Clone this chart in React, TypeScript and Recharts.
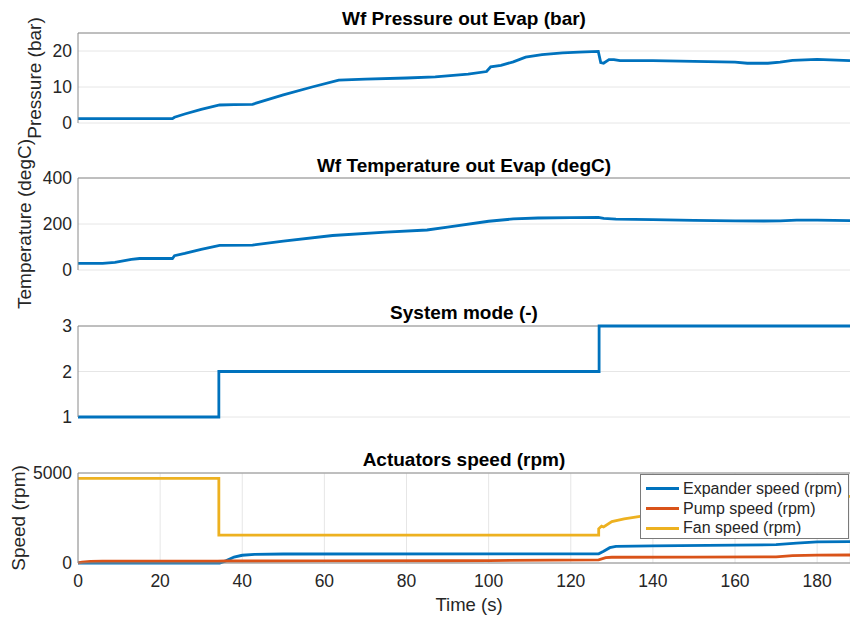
import { CartesianGrid, Legend, Line, LineChart, ReferenceLine, XAxis, YAxis } from "recharts";

const FONT = '"Liberation Sans", Arial, Helvetica, sans-serif';
const AXIS = "#8a8a8a";
const GRID = "#e6e6e6";
const INK = "#262626";
const BLUE = "#0072BD";
const RED = "#D95319";
const YELLOW = "#EDB120";

const timeTicks = [0, 20, 40, 60, 80, 100, 120, 140, 160, 180];
const timeDomain = [0, 188];

// pressure out of the evaporator (bar)
const pressureT = [0, 23, 23.5, 26, 30, 34.5, 38, 42.5, 50, 57, 63.5, 70, 80, 87, 95, 99.5, 100.5, 103, 106, 109, 113, 118, 122, 126.7, 127.3, 128, 129.3, 130.5, 132, 140, 150, 160, 163, 168, 171, 174, 180, 188];
const pressureV = [1.2, 1.2, 1.6, 2.5, 3.8, 5.0, 5.1, 5.2, 7.8, 10.0, 11.9, 12.2, 12.5, 12.8, 13.6, 14.3, 15.6, 16.0, 17.0, 18.3, 19.0, 19.5, 19.7, 19.9, 16.8, 16.6, 17.6, 17.6, 17.3, 17.3, 17.1, 16.9, 16.6, 16.6, 16.9, 17.4, 17.7, 17.3];

// temperature out of the evaporator (degC)
const tempT = [0, 6, 9, 13, 15, 23, 23.5, 26, 30, 34.5, 42.5, 50, 62, 75, 85, 90, 100, 106, 112, 120, 126.7, 128, 131, 140, 150, 160, 167, 171, 175, 180, 188];
const tempV = [29, 29, 33, 46, 50, 50, 62, 72, 90, 107, 108, 126, 150, 165, 174, 186, 212, 222, 226, 228, 229, 224, 221, 219, 216, 214, 213, 214, 217, 217, 215];

// system mode (-)
const modeT = [0, 34.3, 126.9, 188];
const modeV = [1, 2, 3, 3];

// actuators (rpm)
const expanderT = [0, 34.5, 36, 38, 40, 43, 50, 126.8, 128, 129.5, 131, 140, 160, 170, 175, 180, 188];
const expanderV = [0, 0, 120, 330, 430, 480, 500, 510, 650, 850, 920, 950, 990, 1020, 1100, 1170, 1190];
const pumpT = [0, 1, 3, 6, 34, 36, 60, 90, 100, 126.8, 128.5, 130, 150, 170, 174, 180, 188];
const pumpV = [0, 50, 90, 100, 105, 110, 115, 125, 135, 170, 300, 320, 330, 340, 410, 440, 445];
const fanT = [0, 34.3, 34.3, 126.8, 126.8, 127.5, 128, 130, 133, 136.5, 140, 150, 160, 170, 180, 188];
const fanV = [4700, 4700, 1550, 1550, 1900, 2050, 2000, 2300, 2450, 2570, 2700, 3000, 3250, 3450, 3620, 3700];

const legendOrder = ["Expander speed (rpm)", "Pump speed (rpm)", "Fan speed (rpm)"];

const toRows = (t: number[], v: number[]) => t.map((x, i) => ({ t: x, v: v[i] }));

const W = 850;
const H = 619;

const yLabel = (text: string, x: number) => ({
  content: (props: any) => {
    const vb = props.viewBox || {};
    const cy = vb.y + vb.height / 2;
    return (
      <text transform={`translate(${x},${cy}) rotate(-90)`} textAnchor="middle" fontSize={19} fill={INK} fontFamily={FONT}>
        {text}
      </text>
    );
  },
});

const tickStyle = { fontSize: 17.5, fill: INK, fontFamily: FONT };

type PanelProps = {
  top: number;
  bottom: number;
  yDomain: number[];
  yTicks: number[];
  label?: string;
  labelX?: number;
  children: any;
  last?: boolean;
  legend?: boolean;
};

function Panel({ top, bottom, yDomain, yTicks, label, labelX = 30, children, last, legend }: PanelProps) {
  return (
    <div style={{ position: "absolute", left: 0, top: 0 }}>
      <LineChart width={W} height={H} margin={{ top, bottom: last ? 0 : H - bottom, left: 0, right: 0 }}>
        <CartesianGrid stroke={GRID} vertical={!!last} horizontal={true} />
        <XAxis
          type="number"
          dataKey="t"
          domain={timeDomain}
          ticks={timeTicks}
          allowDataOverflow
          height={last ? H - bottom : 0}
          tick={last ? tickStyle : false}
          tickLine={false}
          tickSize={6}
          tickMargin={6}
          axisLine={{ stroke: AXIS }}
          label={
            last
              ? {
                  content: (props: any) => {
                    const vb = props.viewBox || {};
                    return (
                      <text x={vb.x + vb.width / 2 + 5} y={611} textAnchor="middle" fontSize={18.5} fill={INK} fontFamily={FONT}>
                        Time (s)
                      </text>
                    );
                  },
                }
              : undefined
          }
        />
        <YAxis
          type="number"
          domain={yDomain}
          ticks={yTicks}
          width={78}
          tick={tickStyle}
          tickLine={false}
          tickSize={6}
          tickMargin={0}
          axisLine={{ stroke: AXIS }}
          label={label ? yLabel(label, labelX) : undefined}
        />
        <ReferenceLine y={yDomain[1]} stroke={AXIS} strokeWidth={1} />
        {children}
        {legend && (
          <Legend
            layout="vertical"
            align="center"
            verticalAlign="middle"
            wrapperStyle={{ left: 640, top: 474, width: 209, height: 65 }}
            content={(props: any) => {
              const items = [...(props.payload || [])].sort(
                (a: any, b: any) => legendOrder.indexOf(a.value) - legendOrder.indexOf(b.value)
              );
              return (
                <div
                  style={{
                    boxSizing: "border-box",
                    width: 209,
                    height: 65,
                    background: "#fff",
                    border: "1px solid #7a7a7a",
                    padding: "4px 0 0 5px",
                    fontFamily: FONT,
                    fontSize: 16,
                    color: INK,
                  }}
                >
                  {items.map((p: any) => (
                    <div key={p.value} style={{ display: "flex", alignItems: "center", height: 19.7 }}>
                      <span style={{ display: "inline-block", width: 33, height: 3, background: p.color, marginRight: 4 }} />
                      <span>{p.value}</span>
                    </div>
                  ))}
                </div>
              );
            }}
          />
        )}
      </LineChart>
    </div>
  );
}

const titleStyle = (baseline: number): any => ({
  position: "absolute",
  left: 78,
  width: 772,
  top: baseline - 16,
  lineHeight: "19px",
  textAlign: "center",
  fontFamily: FONT,
  fontWeight: "bold",
  fontSize: 19,
  color: "#000",
});

export default function App() {
  return (
    <div style={{ position: "absolute", left: 0, top: 0, width: W, height: H, background: "#fff", overflow: "hidden" }}>
      <Panel top={33} bottom={123} yDomain={[0, 25]} yTicks={[0, 10, 20]} label="Pressure (bar)" labelX={41}>
        <Line data={toRows(pressureT, pressureV)} dataKey="v" stroke={BLUE} strokeWidth={2.8} dot={false} isAnimationActive={false} />
      </Panel>
      <Panel top={178} bottom={270} yDomain={[0, 400]} yTicks={[0, 200, 400]} label="Temperature (degC)" labelX={31}>
        <Line data={toRows(tempT, tempV)} dataKey="v" stroke={BLUE} strokeWidth={2.8} dot={false} isAnimationActive={false} />
      </Panel>
      <Panel top={326} bottom={417} yDomain={[1, 3]} yTicks={[1, 2, 3]}>
        <Line type="stepAfter" data={toRows(modeT, modeV)} dataKey="v" stroke={BLUE} strokeWidth={2.8} dot={false} isAnimationActive={false} />
      </Panel>
      <Panel top={473} bottom={563} yDomain={[0, 5000]} yTicks={[0, 5000]} label="Speed (rpm)" labelX={25} last legend>
        <Line data={toRows(expanderT, expanderV)} dataKey="v" name="Expander speed (rpm)" stroke={BLUE} strokeWidth={2.8} dot={false} isAnimationActive={false} />
        <Line data={toRows(pumpT, pumpV)} dataKey="v" name="Pump speed (rpm)" stroke={RED} strokeWidth={2.8} dot={false} isAnimationActive={false} />
        <Line data={toRows(fanT, fanV)} dataKey="v" name="Fan speed (rpm)" stroke={YELLOW} strokeWidth={2.8} dot={false} isAnimationActive={false} />
      </Panel>
      <div style={titleStyle(25)}>Wf Pressure out Evap (bar)</div>
      <div style={titleStyle(171.5)}>Wf Temperature out Evap (degC)</div>
      <div style={titleStyle(318.5)}>System mode (-)</div>
      <div style={titleStyle(466)}>Actuators speed (rpm)</div>
    </div>
  );
}
